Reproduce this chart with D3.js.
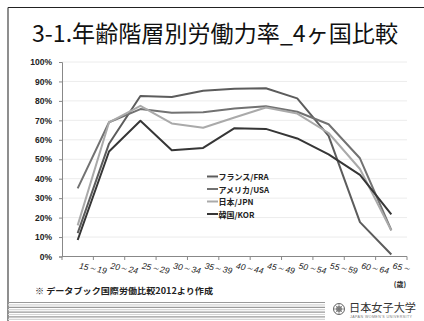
<!DOCTYPE html>
<html>
<head>
<meta charset="utf-8">
<script src="https://cdn.jsdelivr.net/npm/d3@7"></script>
<style>
  html, body { margin: 0; padding: 0; background: #fff; }
  svg { display: block; }
</style>
</head>
<body>
<svg id="chart" width="424" height="321"></svg>
<script>
// Age groups (women's labour force participation, %)
const ageGroups = ["15～19", "20～24", "25～29", "30～34", "35～39", "40～44",
                   "45～49", "50～54", "55～59", "60～64", "65～"];
const seriesNames = ["フランス/FRA", "アメリカ/USA", "日本/JPN", "韓国/KOR"];
const france = [12, 58, 82.5, 82, 85.2, 86.2, 86.5, 81.3, 62, 17.7, 1];
const usa    = [35, 69, 75.8, 73.9, 74.2, 76.1, 77.2, 74.4, 68, 50.5, 13.5];
const japan  = [16, 69, 77.5, 68.4, 66.2, 71.5, 76.6, 73.5, 63.5, 45, 13.4];
const korea  = [8.5, 54, 69.8, 54.6, 55.8, 66, 65.6, 60.7, 52.5, 42, 21.6];
const yTicks = [0, 10, 20, 30, 40, 50, 60, 70, 80, 90, 100];
const seriesColors = ["#5c5c5c", "#727272", "#aaaaaa", "#363636"];

const series = [france, usa, japan, korea].map((v, i) => ({
  name: seriesNames[i], values: v, color: seriesColors[i]
}));

const svg = d3.select("#chart");
const jp = "'Noto Sans CJK JP', 'Noto Sans', sans-serif";
const latin = "'Liberation Sans', Arial, sans-serif";

// slide frame
svg.append("line").attr("x1", 8).attr("x2", 424).attr("y1", 7.5).attr("y2", 7.5)
  .attr("stroke", "#222").attr("stroke-width", 1.2);
svg.append("line").attr("x1", 8).attr("x2", 8).attr("y1", 7.5).attr("y2", 321)
  .attr("stroke", "#444").attr("stroke-width", 1.2);

// title
svg.append("text").attr("x", 215).attr("y", 42).attr("text-anchor", "middle")
  .attr("font-family", jp).attr("font-size", 23).attr("fill", "#111")
  .attr("textLength", 366).attr("lengthAdjust", "spacingAndGlyphs")
  .text("3-1.年齢階層別労働力率_4ヶ国比較");

const x = d3.scaleBand().domain(ageGroups).range([62, 407]);
const y = d3.scaleLinear().domain([0, 100]).range([256.5, 62]);

// gridlines
svg.append("g").selectAll("line").data(yTicks.slice(1)).join("line")
  .attr("x1", 62).attr("x2", 407)
  .attr("y1", d => y(d)).attr("y2", d => y(d))
  .attr("stroke", "#ececec").attr("stroke-width", 1);

// y axis
const yAxis = svg.append("g").attr("transform", "translate(62,0)")
  .call(d3.axisLeft(y).tickValues(yTicks).tickFormat(d => d + "%").tickSize(3).tickPadding(7));
yAxis.select(".domain").attr("stroke", "#888");
yAxis.selectAll(".tick line").attr("stroke", "#888");
yAxis.selectAll("text").attr("font-family", latin).attr("font-weight", "bold")
  .attr("font-size", 8.5).attr("fill", "#222");

// x axis: ticks on band boundaries
const xg = svg.append("g");
xg.append("line").attr("x1", 62).attr("x2", 407).attr("y1", 256.5).attr("y2", 256.5)
  .attr("stroke", "#888");
const bounds = ageGroups.map(a => x(a)).concat([x.range()[1]]);
xg.selectAll("line.tk").data(bounds).join("line").attr("class", "tk")
  .attr("x1", d => d).attr("x2", d => d).attr("y1", 256.5).attr("y2", 260)
  .attr("stroke", "#888");
xg.selectAll("text").data(ageGroups).join("text")
  .attr("transform", d => `translate(${x(d) + x.bandwidth() / 2 + 1},268.5) rotate(11)`)
  .attr("font-family", latin).attr("font-style", "italic").attr("font-size", 8.5)
  .attr("fill", "#222").text(d => d);
svg.append("text").attr("x", 400).attr("y", 287).attr("text-anchor", "middle")
  .attr("font-family", jp).attr("font-weight", "bold").attr("font-size", 7).attr("fill", "#222")
  .text("(歳)");

// lines
const line = d3.line().x((d, i) => x(ageGroups[i]) + x.bandwidth() / 2).y(d => y(d));
svg.append("g").selectAll("path").data(series).join("path")
  .attr("d", d => line(d.values)).attr("fill", "none")
  .attr("stroke", d => d.color).attr("stroke-width", 2).attr("stroke-linejoin", "round");

// legend
const lg = svg.append("g").selectAll("g").data(series).join("g")
  .attr("transform", (d, i) => `translate(207,${176.5 + i * 12.5})`);
lg.append("line").attr("x1", 0).attr("x2", 11).attr("stroke", d => d.color).attr("stroke-width", 2);
lg.append("text").attr("x", 11.5).attr("y", 3.5).attr("font-family", jp)
  .attr("font-weight", "bold").attr("font-size", 8).attr("fill", "#222").text(d => d.name);

// source note
svg.append("text").attr("x", 35).attr("y", 294).attr("font-family", jp)
  .attr("font-weight", "bold").attr("font-size", 8.3).attr("fill", "#222")
  .attr("textLength", 178).attr("lengthAdjust", "spacingAndGlyphs")
  .text("※ データブック国際労働比較2012より作成");

// footer stripes
const stripeRows = d3.range(302.5, 321, 2.4);
svg.append("g").selectAll("line").data(stripeRows).join("line")
  .attr("x1", 8).attr("x2", 325).attr("y1", d => d).attr("y2", d => d)
  .attr("stroke", (d, i) => i % 2 ? "#d6d6d6" : "#9a9a9a").attr("stroke-width", 1.2);

// university mark
const em = svg.append("g").attr("transform", "translate(339,309)");
em.append("circle").attr("r", 5.5).attr("fill", "none").attr("stroke", "#666").attr("stroke-width", 1);
em.append("circle").attr("r", 3).attr("fill", "#888");
em.selectAll("line").data(d3.range(8)).join("line")
  .attr("x1", 0).attr("y1", 0)
  .attr("x2", d => 5 * Math.cos(d * Math.PI / 4)).attr("y2", d => 5 * Math.sin(d * Math.PI / 4))
  .attr("stroke", "#777").attr("stroke-width", 0.8);
svg.append("text").attr("x", 349).attr("y", 312).attr("font-family", jp)
  .attr("font-size", 11.5).attr("fill", "#333").attr("textLength", 67)
  .attr("lengthAdjust", "spacingAndGlyphs").text("日本女子大学");
svg.append("text").attr("x", 350).attr("y", 318).attr("font-family", latin)
  .attr("font-size", 3.6).attr("fill", "#777").attr("textLength", 62)
  .text("JAPAN WOMEN'S UNIVERSITY");
</script>
</body>
</html>
